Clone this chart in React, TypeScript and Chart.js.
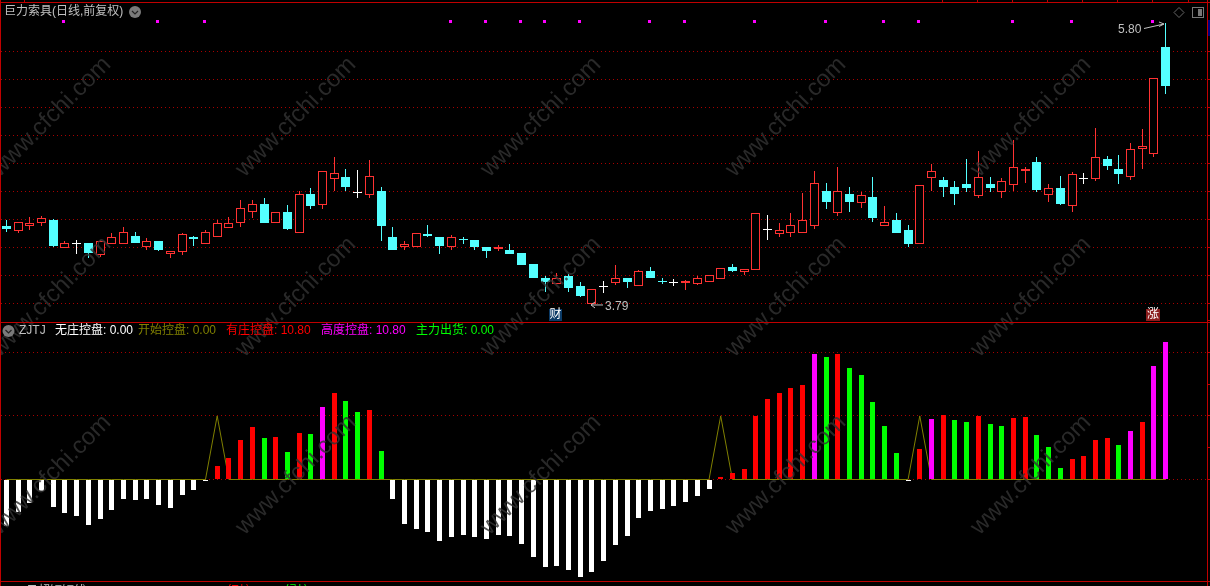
import React, { useEffect, useRef } from "react";
import { Chart, registerables } from "chart.js";

Chart.register(...registerables);

// ---- price panel (one entry per trading day) ----
const candleOpen = [4.353,4.320,4.353,4.377,4.396,4.198,4.232,4.232,4.146,4.227,4.227,4.282,4.203,4.246,4.153,4.170,4.275,4.227,4.277,4.341,4.372,4.456,4.510,4.377,4.453,4.306,4.582,4.501,4.691,4.703,4.598,4.577,4.603,4.275,4.206,4.203,4.296,4.275,4.203,4.258,4.253,4.203,4.191,4.182,4.160,4.082,3.982,3.939,3.996,3.925,3.793,3.925,3.946,3.982,3.925,4.032,3.958,3.951,3.946,3.939,3.956,3.977,4.060,4.027,4.041,4.329,4.298,4.301,4.306,4.356,4.603,4.448,4.582,4.520,4.560,4.356,4.396,4.325,4.227,4.699,4.682,4.632,4.654,4.570,4.654,4.599,4.649,4.747,4.811,4.578,4.625,4.499,4.697,4.692,4.832,4.761,4.706,4.906,4.870,5.632];
const candleHigh = [4.396,4.379,4.417,4.425,4.403,4.244,4.253,4.232,4.253,4.301,4.344,4.308,4.265,4.246,4.172,4.301,4.282,4.322,4.396,4.417,4.539,4.539,4.553,4.451,4.503,4.601,4.625,4.744,4.846,4.760,4.753,4.825,4.632,4.346,4.246,4.301,4.360,4.275,4.289,4.275,4.253,4.203,4.217,4.225,4.160,4.082,3.996,4.017,4.010,3.953,3.901,3.960,4.075,3.982,4.039,4.060,3.982,3.975,3.967,3.996,4.001,4.051,4.082,4.046,4.444,4.432,4.375,4.446,4.589,4.746,4.660,4.775,4.632,4.596,4.703,4.496,4.446,4.360,4.644,4.797,4.704,4.675,4.832,4.889,4.704,4.697,4.968,4.775,4.847,4.654,4.711,4.739,4.732,5.054,4.854,4.861,4.947,5.047,5.408,5.80];
const candleLow = [4.310,4.305,4.325,4.353,4.203,4.198,4.153,4.125,4.134,4.227,4.227,4.232,4.182,4.175,4.125,4.146,4.210,4.227,4.277,4.341,4.346,4.410,4.375,4.377,4.325,4.306,4.475,4.475,4.601,4.603,4.553,4.553,4.246,4.182,4.182,4.203,4.275,4.153,4.182,4.225,4.182,4.125,4.175,4.153,4.075,3.982,3.882,3.939,3.882,3.846,3.793,3.875,3.932,3.910,3.925,3.982,3.939,3.925,3.896,3.932,3.956,3.977,4.025,4.003,4.041,4.253,4.275,4.275,4.306,4.332,4.475,4.425,4.453,4.482,4.382,4.356,4.303,4.203,4.227,4.604,4.561,4.504,4.597,4.554,4.597,4.554,4.604,4.661,4.597,4.525,4.504,4.454,4.654,4.675,4.754,4.654,4.682,4.761,4.847,5.297];
const candleClose = [4.332,4.379,4.372,4.408,4.210,4.229,4.232,4.160,4.244,4.272,4.308,4.232,4.244,4.182,4.172,4.294,4.260,4.308,4.372,4.372,4.479,4.508,4.375,4.451,4.332,4.579,4.496,4.744,4.729,4.632,4.598,4.708,4.353,4.182,4.225,4.301,4.282,4.210,4.272,4.252,4.203,4.175,4.201,4.153,4.075,3.982,3.953,3.979,3.910,3.853,3.901,3.925,3.979,3.953,4.029,3.982,3.952,3.951,3.960,3.979,4.001,4.051,4.032,4.046,4.444,4.329,4.322,4.358,4.396,4.658,4.525,4.601,4.525,4.572,4.410,4.379,4.303,4.225,4.644,4.744,4.632,4.582,4.625,4.701,4.625,4.673,4.773,4.761,4.611,4.623,4.511,4.723,4.697,4.844,4.782,4.725,4.901,4.925,5.408,5.354];
const markerDays = [5,13,17,38,41,44,46,49,55,58,64,70,75,78,86,91,98];
const markerPrice = 5.814;
const priceGrid = [3.8,4.0,4.2,4.4,4.6,4.8,5.0,5.2,5.4,5.6];

// ---- ZJTJ panel ----
const controlValues = [-3.67,-2.57,-1.86,-0.92,-2.18,-2.65,-2.89,-3.60,-3.12,-2.41,-1.55,-1.63,-1.55,-2.02,-2.26,-1.23,-0.84,-0.05,1.05,1.68,3.10,4.12,3.25,3.33,2.15,3.65,3.57,5.70,6.81,6.17,5.30,5.46,2.23,-1.55,-3.52,-3.91,-4.15,-4.86,-4.54,-4.38,-4.54,-4.70,-4.38,-4.46,-5.09,-6.12,-6.90,-6.82,-7.14,-7.69,-7.30,-6.43,-5.17,-4.46,-3.04,-2.49,-2.34,-2.10,-1.78,-1.31,-0.76,0.18,0.50,0.81,4.99,6.34,6.81,7.18,7.44,9.87,9.63,9.87,8.77,8.22,6.09,4.20,2.07,-0.05,2.39,4.75,5.07,4.67,4.51,4.99,4.36,4.20,4.83,4.91,3.49,2.55,0.89,1.60,1.84,3.10,3.25,2.70,3.81,4.51,8.92,10.80];
const controlKinds = "wwwwwwwwwwwwwwwwww" + "rrrrgrgrgmrggrg" + "wwwwwwwwwwwwwwwwwwwwwwwwwwww" + "rrrrrrrrmgrgggggwrmrggrggrrgggrrrrgmrmm";
const startPeakDays = [18,61,78];
const startPeakValue = 5.0;
const controlGrid = [0,5,10];

const legendItems = [
  { text: "无庄控盘: 0.00", x: 55, color: "#ffffff" },
  { text: "开始控盘: 0.00", x: 138, color: "#808000" },
  { text: "有庄控盘: 10.80", x: 226, color: "#ff0000" },
  { text: "高度控盘: 10.80", x: 321, color: "#ff00ff" },
  { text: "主力出货: 0.00", x: 416, color: "#00ff00" },
];

const CYAN = "#54ffff", UP = "#ff3232", WHITE = "#ffffff";
const kindColor: Record<string,string> = { w: "#ffffff", r: "#ff0000", g: "#00ff00", m: "#ff00ff" };
const days = candleOpen.map((_, i) => String(i));
const labels = [...days, "a", "b", "c"];
const candleColor = candleOpen.map((o, i) => candleClose[i] > o ? UP : candleClose[i] < o ? CYAN : WHITE);
const FONT = '12px "Liberation Sans","Noto Sans CJK SC"';

function chevronBadge(ctx: CanvasRenderingContext2D, x: number, y: number) {
  ctx.fillStyle = "#7a7a7a";
  ctx.beginPath(); ctx.arc(x, y, 6, 0, Math.PI * 2); ctx.fill();
  ctx.strokeStyle = "#222"; ctx.lineWidth = 1.2;
  ctx.beginPath(); ctx.moveTo(x - 3, y - 1); ctx.lineTo(x, y + 2); ctx.lineTo(x + 3, y - 1); ctx.stroke();
}

const snapPlugin = {
  id: "snap",
  beforeDatasetsDraw(chart: any) {
    chart.getSortedVisibleDatasetMetas().forEach((meta: any) => {
      meta.data.forEach((el: any) => {
        if (el.skip) return;
        if (meta.type === "bar") {
          el.x = Math.floor(el.x) + 0.5;
          el.y = Math.round(el.y);
          el.base = Math.round(el.base);
          if (Math.abs(el.y - el.base) < 1) el.base = el.y + 1;
        } else if (chart.data.datasets[meta.index].isMarker) {
          el.x = Math.floor(el.x) - 0.5;
          el.y = Math.floor(el.y) + 0.5;
        }
      });
    });
  },
};

const framePlugin = {
  id: "frame",
  beforeDraw(chart: any) {
    const c = chart.ctx;
    c.save(); c.fillStyle = "#000"; c.fillRect(0, 0, 1210, 586); c.restore();
  },
  afterDatasetsDraw(chart: any) {
    const c: CanvasRenderingContext2D = chart.ctx;
    // watermark
    c.save();
    c.font = '24px "Liberation Sans"';
    c.fillStyle = "rgba(50,50,50,0.82)";
    c.textAlign = "center"; c.textBaseline = "middle";
    [51, 296, 541, 786, 1031].forEach((x) => [117, 297, 475].forEach((y) => {
      c.save(); c.translate(x, y); c.rotate(-Math.PI / 4); c.fillText("www.cfchi.com", 0, 0); c.restore();
    }));
    c.restore();
    // frame
    c.save();
    c.fillStyle = "#c00000";
    c.fillRect(0, 2, 1210, 1);
    c.fillRect(0, 322, 1210, 1);
    c.fillRect(0, 581, 1210, 1);
    c.fillRect(0, 0, 1, 586);
    c.fillRect(1207, 0, 1, 586);
    const yP = chart.scales.y, yC = chart.scales.y2, xS = chart.scales.x;
    priceGrid.forEach((p) => c.fillRect(1208, Math.floor(yP.getPixelForValue(p)), 2, 1));
    controlGrid.forEach((v) => {
      c.fillRect(1208, Math.floor(yC.getPixelForValue(v)), 2, 1);
      c.fillRect(1208, Math.floor(yC.getPixelForValue(v + 2.5)), 2, 1);
    });
    for (let i = 80; i <= 101; i += 3) c.fillRect(Math.floor(xS.getPixelForValue(i)) - 1, 0, 1, 2);
    c.fillRect(24, 0, 1, 2);
    c.fillStyle = "#000080"; c.fillRect(1208, 20, 2, 16);
    c.restore();
    // text
    c.save();
    c.font = FONT; c.textBaseline = "middle"; c.textAlign = "left";
    c.fillStyle = "#c0c0c0";
    c.fillText("巨力索具(日线,前复权)", 4, 12);
    chevronBadge(c, 135, 12);
    chevronBadge(c, 8.5, 331);
    c.fillStyle = "#c0c0c0";
    c.fillText("ZJTJ", 19, 331);
    legendItems.forEach((l) => { c.fillStyle = l.color; c.fillText(l.text, l.x, 331); });
    // high / low notes
    const lastX = Math.floor(xS.getPixelForValue(99));
    const hiY = yP.getPixelForValue(candleHigh[99]);
    c.fillStyle = "#c0c0c0";
    c.fillText(candleHigh[99].toFixed(2), lastX - 47, hiY + 6);
    c.strokeStyle = "#c0c0c0"; c.lineWidth = 1;
    c.beginPath(); c.moveTo(lastX - 21, hiY + 5); c.lineTo(lastX - 1, hiY + 0.5);
    c.moveTo(lastX - 6, hiY - 1.5); c.lineTo(lastX - 1, hiY + 0.5); c.lineTo(lastX - 6, hiY + 3); c.stroke();
    const loX = Math.floor(xS.getPixelForValue(50));
    const loY = yP.getPixelForValue(candleLow[50]);
    c.fillText(candleLow[50].toFixed(2), loX + 14, loY + 2);
    c.beginPath(); c.moveTo(loX + 12, loY + 0.5); c.lineTo(loX, loY + 0.5);
    c.moveTo(loX + 4, loY - 2.5); c.lineTo(loX, loY + 0.5); c.lineTo(loX + 4, loY + 3.5); c.stroke();
    // tags
    c.fillStyle = "#0b3a66"; c.fillRect(549, 309, 13, 12);
    c.fillStyle = "#8a1c1c"; c.fillRect(1146, 309, 14, 12);
    c.fillStyle = "#ffffff"; c.textAlign = "center";
    c.fillText("财", 555.5, 315);
    c.fillText("涨", 1153, 315);
    c.textAlign = "left";
    // icons
    c.strokeStyle = "#666";
    c.beginPath(); c.moveTo(1179, 7.5); c.lineTo(1184, 12.5); c.lineTo(1179, 17.5); c.lineTo(1174, 12.5); c.closePath(); c.stroke();
    c.strokeStyle = "#777";
    c.strokeRect(1192.5, 7.5, 11, 10);
    c.fillStyle = "#777"; c.fillRect(1198, 9, 4, 7);
    // next panel's header, cut by the window
    chevronBadge(c, 8.5, 592);
    c.fillStyle = "#c0c0c0"; c.fillText("(日超短短线) 1.1 25 7 1 10 11 1 25", 22, 592);
    c.fillStyle = "#ffff00"; c.fillText("1.1 1.07", 182, 592);
    c.fillStyle = "#ff0000"; c.fillText("红柱: 0.00", 227, 592);
    c.fillStyle = "#00ff00"; c.fillText("绿柱", 285, 592);
    c.restore();
  },
};

export default function App() {
  const ref = useRef<HTMLCanvasElement>(null);
  useEffect(() => {
    document.body.style.margin = "0";
    document.body.style.background = "#000";
    const zeroWidth = (s: any) => { s.width = 0; s.paddingTop = 0; s.paddingBottom = 0; s.paddingLeft = 0; s.paddingRight = 0; };
    const chart = new Chart(ref.current!, {
      type: "bar",
      plugins: [snapPlugin, framePlugin],
      data: {
        labels,
        datasets: [
          {
            type: "line", label: "开始控盘", yAxisID: "y2", order: 6,
            data: days.map((_, i) => (startPeakDays.includes(i) ? startPeakValue : 0)),
            borderColor: "#808000", borderWidth: 1, pointRadius: 0, tension: 0,
          },
          {
            label: "ZJTJ", yAxisID: "y2", order: 5,
            data: controlValues,
            backgroundColor: controlValues.map((_, i) => kindColor[controlKinds[i]]),
            borderWidth: 0, barThickness: 5, inflateAmount: 0, grouped: false,
          },
          {
            label: "wick", yAxisID: "y", order: 4,
            data: days.map((_, i) => [candleLow[i], candleHigh[i]]),
            backgroundColor: candleColor, borderWidth: 0, barThickness: 1, inflateAmount: 0, grouped: false,
          },
          {
            label: "body", yAxisID: "y", order: 3,
            data: days.map((_, i) => [candleOpen[i], candleClose[i]]),
            backgroundColor: candleColor.map((c) => (c === UP ? "#000000" : c)),
            borderColor: candleColor, borderWidth: 1, borderSkipped: false,
            barThickness: 9, inflateAmount: 0, grouped: false,
          },
          {
            type: "line", label: "marker", yAxisID: "y", order: 2, isMarker: true, showLine: false,
            data: days.map((_, i) => (markerDays.includes(i) ? markerPrice : null)),
            backgroundColor: "#ff00ff", borderColor: "#ff00ff", borderWidth: 0,
            pointStyle: "rect", pointRadius: 2.13,
          },
        ] as any,
      },
      options: {
        animation: false, responsive: false, events: [],
        layout: { autoPadding: false, padding: { left: 0.545, right: 3.325, top: 0, bottom: 0 } },
        plugins: { legend: { display: false }, tooltip: { enabled: false } },
        scales: {
          x: { type: "category", display: false, offset: true, grid: { display: false } },
          y: {
            position: "left", stack: "panels", stackWeight: 322, weight: 2,
            min: 3.8 - 18.5 / 140, max: 3.8 + 303.5 / 140,
            afterBuildTicks: (s: any) => { s.ticks = priceGrid.map((value) => ({ value })); },
            afterFit: zeroWidth,
            ticks: { display: false, padding: 0 },
            grid: { color: "#a80000", lineWidth: 1, drawTicks: false },
            border: { display: false, dash: [1, 3] },
          },
          y2: {
            position: "left", stack: "panels", stackWeight: 264, weight: 1,
            min: -106.5 / 12.72, max: 157.5 / 12.72,
            afterBuildTicks: (s: any) => { s.ticks = controlGrid.map((value) => ({ value })); },
            afterFit: zeroWidth,
            ticks: { display: false, padding: 0 },
            grid: { color: "#a80000", lineWidth: 1, drawTicks: false },
            border: { display: false, dash: [1, 3] },
          },
        },
      } as any,
    });
    return () => chart.destroy();
  }, []);
  return <canvas ref={ref} width={1210} height={586} style={{ display: "block", width: 1210, height: 586 }} />;
}
